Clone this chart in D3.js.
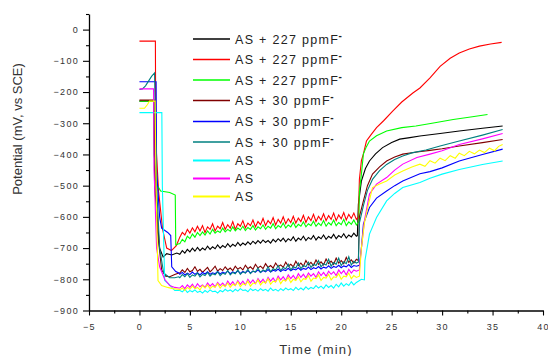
<!DOCTYPE html>
<html>
<head>
<meta charset="utf-8">
<script src="https://cdn.jsdelivr.net/npm/d3@7/dist/d3.min.js"></script>
<style>
  body { margin: 0; background: #fff; }
  svg { display: block; font-family: "Liberation Sans", Arial, sans-serif; }
</style>
</head>
<body>
<div id="chart"></div>
<script>
// ---- data (time in min, potential in mV vs SCE) ----
const seriesNames = ["AS + 227 ppmF", "AS + 227 ppmF", "AS + 227 ppmF",
  "AS + 30 ppmF", "AS + 30 ppmF", "AS + 30 ppmF", "AS", "AS", "AS"];
const seriesColors = ["#000000", "#ff0000", "#00ff00", "#800000", "#0000ff",
  "#008080", "#00ffff", "#ff00ff", "#ffff00"];
const superMinus = [true, true, true, true, true, true, false, false, false];

const xTicks = [-5, 0, 5, 10, 15, 20, 25, 30, 35, 40];
const yTicks = [0, -100, -200, -300, -400, -500, -600, -700, -800, -900];

// times shared by the noisy plateau part of every curve
const plateauTimes = [4, 4.25, 4.5, 4.75, 5, 5.25, 5.5, 5.75, 6, 6.25, 6.5, 6.75,
  7, 7.25, 7.5, 7.75, 8, 8.25, 8.5, 8.75, 9, 9.25, 9.5, 9.75, 10, 10.25, 10.5, 10.75,
  11, 11.25, 11.5, 11.75, 12, 12.25, 12.5, 12.75, 13, 13.25, 13.5, 13.75, 14, 14.25,
  14.5, 14.75, 15, 15.25, 15.5, 15.75, 16, 16.25, 16.5, 16.75, 17, 17.25, 17.5, 17.75,
  18, 18.25, 18.5, 18.75, 19, 19.25, 19.5, 19.75, 20, 20.25, 20.5, 20.75, 21, 21.25, 21.5];

// black, AS + 227
const blackStart = [[0, -229], [1.45, -229], [1.5, -500], [2.0, -700], [2.35, -729], [2.7, -718], [3.2, -722], [3.7, -716]];
const blackPlateau = [-720, -708, -716, -704, -712, -700, -710, -698, -708, -700,
  -706, -694, -704, -696, -702, -690, -700, -692, -698, -686,
  -696, -688, -694, -682, -692, -684, -690, -680, -688, -678,
  -686, -676, -684, -674, -682, -676, -684, -672, -680, -670,
  -678, -668, -680, -670, -676, -664, -678, -668, -674, -662,
  -676, -666, -672, -660, -674, -664, -670, -658, -672, -662,
  -668, -656, -670, -660, -666, -654, -668, -658, -664, -652, -662];
const blackEnd = [[21.6, -660], [21.7, -560], [22.0, -485], [22.4, -445], [22.8, -421], [23.4, -398],
  [24.1, -378], [25.0, -362], [25.8, -351], [26.8, -346], [27.8, -341], [29.8, -333], [31.7, -325],
  [34.0, -316], [36.0, -309]];

// red, AS + 227
const redStart = [[0, -37], [1.58, -37], [1.62, -357], [1.9, -520], [2.3, -640], [2.7, -700], [3.17, -708], [3.66, -692]];
const redPlateau = [-665, -650, -658, -640, -652, -635, -648, -630, -645, -628,
  -650, -632, -640, -622, -645, -630, -638, -618, -640, -625,
  -636, -615, -640, -622, -630, -612, -635, -620, -628, -610,
  -632, -615, -625, -605, -628, -612, -622, -602, -626, -608,
  -620, -600, -622, -606, -618, -598, -620, -604, -615, -595,
  -618, -600, -612, -592, -615, -598, -610, -590, -612, -596,
  -608, -588, -612, -594, -606, -586, -610, -592, -605, -588, -608];
const redEnd = [[21.7, -600], [21.8, -480], [22.0, -420], [22.2, -398], [22.5, -357], [23.0, -335],
  [23.5, -314], [24.2, -292], [25.1, -261], [26.0, -232], [27.1, -203], [27.8, -187], [28.8, -155],
  [29.8, -118], [30.8, -92], [31.7, -75], [32.7, -62], [33.7, -53], [34.8, -46], [35.9, -41]];

// green, AS + 227
const greenStart = [[0, -229], [1.4, -229], [1.45, -400], [1.8, -500], [2.1, -517], [3.0, -522], [3.55, -530], [3.6, -690], [3.9, -686]];
const greenPlateau = [-686, -672, -680, -662, -670, -655, -665, -650, -660, -648,
  -658, -645, -655, -640, -652, -645, -650, -636, -648, -640,
  -646, -632, -645, -636, -642, -630, -644, -634, -640, -628,
  -642, -632, -638, -626, -640, -630, -636, -622, -638, -628,
  -634, -620, -636, -626, -632, -618, -634, -624, -630, -616,
  -632, -622, -628, -614, -630, -620, -628, -612, -630, -618,
  -626, -610, -628, -618, -625, -608, -628, -616, -624, -610, -626];
const greenEnd = [[21.75, -615], [21.8, -520], [22.0, -463], [22.2, -398], [22.5, -375], [22.8, -357],
  [23.5, -340], [24.5, -325], [26.0, -314], [27.4, -309], [29.0, -300], [31.1, -288], [33.0, -279],
  [34.5, -272]];

// wine, AS + 30
const wineStart = [[0, -226], [1.45, -226], [1.5, -400], [1.8, -650], [2.2, -770], [2.6, -790], [3.0, -792], [3.5, -785], [3.9, -780]];
const winePlateau = [-780, -770, -778, -765, -776, -772, -760, -775, -768, -778,
  -770, -762, -776, -768, -758, -774, -766, -772, -760, -770,
  -764, -772, -758, -768, -762, -770, -755, -766, -760, -768,
  -752, -764, -758, -766, -750, -762, -756, -764, -748, -760,
  -754, -762, -745, -758, -752, -760, -742, -756, -748, -758,
  -740, -754, -746, -756, -738, -752, -744, -754, -735, -750,
  -742, -752, -732, -748, -740, -750, -730, -746, -738, -748, -736];
const wineEnd = [[21.7, -740], [21.8, -600], [22.2, -549], [22.6, -500], [23.1, -463], [23.8, -440],
  [24.5, -421], [25.3, -408], [26.1, -399], [27.5, -392], [28.8, -387], [30.0, -382], [31.7, -373],
  [34.0, -362], [36.0, -352]];

// blue, AS + 30
const blueStart = [[0, -167], [1.65, -167], [1.7, -450], [2.0, -600], [2.2, -636], [2.8, -650], [3.1, -660], [3.2, -760], [3.6, -775], [3.9, -780]];
const bluePlateau = [-784, -778, -786, -780, -785, -777, -784, -779, -786, -778,
  -783, -776, -784, -779, -782, -775, -783, -777, -781, -774,
  -782, -776, -780, -773, -781, -775, -779, -772, -780, -774,
  -777, -770, -778, -772, -776, -769, -777, -771, -774, -767,
  -775, -769, -772, -765, -773, -767, -770, -763, -771, -765,
  -768, -761, -769, -763, -766, -759, -767, -761, -764, -757,
  -765, -759, -762, -755, -763, -757, -760, -753, -762, -756, -758];
const blueEnd = [[21.8, -755], [22.0, -700], [22.2, -623], [22.8, -570], [23.5, -540], [24.5, -517],
  [25.3, -500], [26.1, -485], [27.8, -462], [28.8, -455], [30.0, -443], [31.7, -421], [34.0, -400],
  [36.0, -383]];

// dark cyan, AS + 30
const tealStart = [[0, -192], [0.3, -190], [0.6, -180], [0.9, -165], [1.2, -150], [1.5, -139], [1.55, -250],
  [1.7, -500], [2.0, -700], [2.4, -780], [3.0, -795], [3.5, -795], [3.9, -792]];
const tealPlateau = [-795, -785, -792, -782, -794, -786, -790, -780, -792, -784,
  -788, -778, -790, -782, -786, -776, -788, -780, -784, -772,
  -786, -778, -782, -770, -784, -776, -780, -768, -782, -774,
  -776, -764, -778, -770, -774, -760, -776, -766, -770, -756,
  -772, -762, -766, -752, -770, -760, -764, -748, -766, -756,
  -760, -745, -762, -752, -756, -740, -760, -750, -754, -736,
  -758, -746, -752, -732, -756, -744, -750, -728, -754, -742, -748];
const tealEnd = [[21.7, -745], [21.8, -620], [22.2, -564], [22.6, -515], [23.1, -480], [23.8, -452],
  [24.5, -432], [25.3, -416], [26.1, -405], [27.0, -395], [28.4, -386], [29.8, -373], [31.7, -357],
  [34.0, -338], [36.0, -320]];

// cyan, AS
const cyanStart = [[0, -266], [2.22, -266], [2.27, -500], [2.5, -804], [2.9, -815], [3.5, -836], [3.9, -835]];
const cyanPlateau = [-836, -840, -832, -842, -836, -840, -834, -842, -838, -844,
  -836, -842, -834, -840, -838, -844, -836, -840, -832, -838,
  -834, -840, -832, -838, -830, -836, -834, -840, -830, -836,
  -832, -838, -830, -836, -832, -838, -828, -836, -832, -838,
  -830, -836, -828, -834, -830, -836, -826, -834, -828, -834,
  -824, -832, -826, -830, -820, -828, -822, -830, -818, -826,
  -820, -828, -816, -824, -812, -822, -814, -820, -808, -818, -810];
const cyanEnd = [[21.7, -806], [22.0, -800], [22.3, -802], [22.35, -740], [22.8, -655], [23.5, -602],
  [24.5, -549], [25.3, -525], [26.1, -506], [27.8, -490], [28.8, -476], [30.0, -463], [31.7, -448],
  [34.0, -432], [36.0, -421]];

// magenta, AS
const magentaStart = [[0, -190], [1.4, -190], [1.45, -450], [1.7, -700], [2.0, -760], [2.5, -800], [3.0, -820], [3.5, -826], [3.9, -828]];
const magentaPlateau = [-828, -820, -830, -818, -826, -816, -828, -814, -824, -818,
  -826, -812, -822, -814, -824, -810, -820, -812, -822, -806,
  -818, -808, -820, -804, -816, -806, -818, -800, -812, -802,
  -814, -798, -810, -800, -812, -794, -806, -796, -808, -790,
  -802, -792, -804, -786, -798, -788, -800, -782, -794, -784,
  -796, -780, -790, -782, -794, -776, -788, -778, -790, -774,
  -784, -776, -788, -770, -782, -772, -786, -768, -780, -770, -774];
const magentaEnd = [[21.8, -770], [22.0, -700], [22.3, -612], [22.8, -527], [23.5, -495], [24.5, -474],
  [25.3, -450], [26.1, -431], [27.5, -410], [28.8, -399], [30.0, -388], [31.7, -368], [34.0, -350],
  [36.0, -333]];

// yellow, AS
const yellowStart = [[0, -252], [0.5, -252], [0.8, -240], [1.0, -229], [1.55, -229], [1.65, -500], [1.84, -804],
  [2.2, -820], [2.8, -826], [3.3, -830], [3.9, -832]];
const yellowPlateau = [-834, -828, -836, -826, -832, -822, -830, -826, -834, -820,
  -828, -818, -830, -822, -826, -814, -828, -818, -824, -812,
  -826, -816, -820, -808, -824, -814, -818, -806, -822, -812,
  -814, -802, -818, -808, -812, -798, -816, -806, -808, -796,
  -814, -802, -806, -794, -810, -800, -804, -792, -808, -798,
  -800, -788, -806, -796, -798, -786, -804, -794, -796, -784,
  -802, -792, -794, -782, -800, -790, -792, -780, -798, -788, -794];
const yellowEnd = [[21.8, -790], [22.0, -700], [22.3, -620], [22.7, -560], [23.1, -506], [23.8, -495],
  [24.5, -485], [25.3, -466], [26.1, -453], [27.0, -440], [27.8, -431], [28.3, -438], [28.8, -420],
  [29.3, -428], [29.8, -412], [30.3, -420], [30.8, -404], [31.3, -412], [31.7, -396], [32.2, -404],
  [32.7, -390], [33.2, -398], [33.7, -386], [34.2, -394], [34.7, -380], [35.2, -388], [35.6, -374],
  [36.0, -368]];

const curves = [
  [blackStart, blackPlateau, blackEnd],
  [redStart, redPlateau, redEnd],
  [greenStart, greenPlateau, greenEnd],
  [wineStart, winePlateau, wineEnd],
  [blueStart, bluePlateau, blueEnd],
  [tealStart, tealPlateau, tealEnd],
  [cyanStart, cyanPlateau, cyanEnd],
  [magentaStart, magentaPlateau, magentaEnd],
  [yellowStart, yellowPlateau, yellowEnd]
];

// ---- drawing ----
const width = 548, height = 356;
const margin = { top: 14, right: 5, bottom: 45, left: 89 };
const innerW = 543 - margin.left;
const innerH = 310.5 - margin.top;

const svg = d3.select("#chart").append("svg")
  .attr("width", width)
  .attr("height", height)
  .style("background-color", "white");

const g = svg.append("g")
  .attr("transform", `translate(${margin.left},${margin.top})`);

const x = d3.scaleLinear().domain([-5, 40]).range([0, innerW]);
const y = d3.scaleLinear().domain([-900, 50]).range([innerH, 0]);

const line = d3.line().x(d => x(d[0])).y(d => y(d[1]));

curves.forEach((c, i) => {
  const pts = c[0].concat(plateauTimes.map((t, k) => [t, c[1][k]]), c[2]);
  g.append("path")
    .datum(pts)
    .attr("fill", "none")
    .attr("stroke", seriesColors[i])
    .attr("stroke-width", 1.1)
    .attr("d", line);
});

// minor ticks
const xMinor = xTicks.slice(0, -1).map(v => v + 2.5);
const yMinor = yTicks.map(v => v + 50);

g.append("g")
  .attr("transform", `translate(0,${innerH})`)
  .call(d3.axisBottom(x).tickValues(xMinor).tickSize(3).tickFormat(""))
  .call(a => a.select(".domain").remove());
g.append("g")
  .call(d3.axisLeft(y).tickValues(yMinor).tickSize(3).tickFormat(""))
  .call(a => a.select(".domain").remove());

const xAxis = g.append("g")
  .attr("transform", `translate(0,${innerH})`)
  .call(d3.axisBottom(x).tickValues(xTicks).tickSize(5).tickSizeOuter(0).tickPadding(8));
const yAxis = g.append("g")
  .call(d3.axisLeft(y).tickValues(yTicks).tickSize(6).tickSizeOuter(0).tickPadding(4));

[xAxis, yAxis].forEach(a => {
  a.select(".domain").attr("stroke-width", 1.3);
  a.selectAll(".tick text")
    .attr("font-family", "Liberation Sans, Arial, sans-serif")
    .attr("font-size", 9)
    .attr("letter-spacing", "1.3px")
    .attr("fill", "#333");
});
g.selectAll(".tick line").attr("stroke-width", 1.1);

// axis titles
svg.append("text")
  .attr("x", 316).attr("y", 354)
  .attr("text-anchor", "middle")
  .attr("font-size", 13)
  .attr("letter-spacing", "1.2px")
  .attr("fill", "#333")
  .text("Time (min)");

svg.append("text")
  .attr("transform", "translate(22,129) rotate(-90)")
  .attr("text-anchor", "middle")
  .attr("font-size", 13)
  .attr("fill", "#333")
  .text("Potential (mV, vs SCE)");

// legend
const legendRowY = [39, 59.5, 80, 100.5, 121.5, 142, 160.5, 178.5, 196.5];
const legend = svg.append("g");
seriesNames.forEach((name, i) => {
  const row = legend.append("g").attr("transform", `translate(0,${legendRowY[i]})`);
  row.append("line")
    .attr("x1", 193).attr("x2", 230)
    .attr("stroke", seriesColors[i])
    .attr("stroke-width", i >= 6 ? 2.2 : 1.3);
  const t = row.append("text")
    .attr("x", 235).attr("y", 0).attr("dy", "0.36em")
    .attr("font-size", 12.5)
    .attr("letter-spacing", "1.3px")
    .attr("fill", "#222")
    .text(name);
  if (superMinus[i]) {
    t.append("tspan")
      .attr("dy", "-0.5em")
      .attr("dx", "-0.5")
      .attr("font-size", 10)
      .attr("font-weight", "bold")
      .text("-");
  }
});
</script>
</body>
</html>
